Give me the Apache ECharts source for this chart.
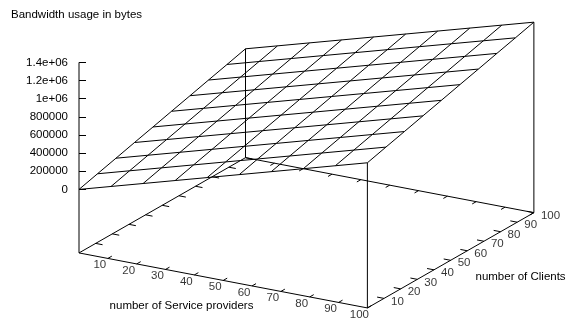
<!DOCTYPE html>
<html>
<head>
<meta charset="utf-8">
<script src="https://cdn.jsdelivr.net/npm/echarts@6/dist/echarts.min.js"></script>
<style>
  html, body { margin: 0; padding: 0; background: #fff; }
  #chart { width: 572px; height: 320px; }
</style>
</head>
<body>
<div id="chart"></div>
<script>
// ---- data -------------------------------------------------------------
const xRange = [0, 100];          // number of Service providers
const yRange = [0, 100];          // number of Clients
const zRange = [0, 1400000];      // bandwidth usage in bytes

// sample positions of the 10 x 10 surface mesh
const spSamples     = [0, 11.11, 22.22, 33.33, 44.44, 55.56, 66.67, 77.78, 88.89, 100];
const clientSamples = [0, 11.11, 22.22, 33.33, 44.44, 55.56, 66.67, 77.78, 88.89, 100];

// bandwidth[i][j]: usage for spSamples[i] service providers and clientSamples[j] clients
const bandwidth = [
  [     0,   56000,  111000,  167000,  222000,  278000,  333000,  389000,  444000,  500000],
  [100000,  156000,  211000,  267000,  322000,  378000,  433000,  489000,  544000,  600000],
  [200000,  256000,  311000,  367000,  422000,  478000,  533000,  589000,  644000,  700000],
  [300000,  356000,  411000,  467000,  522000,  578000,  633000,  689000,  744000,  800000],
  [400000,  456000,  511000,  567000,  622000,  678000,  733000,  789000,  844000,  900000],
  [500000,  556000,  611000,  667000,  722000,  778000,  833000,  889000,  944000, 1000000],
  [600000,  656000,  711000,  767000,  822000,  878000,  933000,  989000, 1044000, 1100000],
  [700000,  756000,  811000,  867000,  922000,  978000, 1033000, 1089000, 1144000, 1200000],
  [800000,  856000,  911000,  967000, 1022000, 1078000, 1133000, 1189000, 1244000, 1300000],
  [900000,  956000, 1011000, 1067000, 1122000, 1178000, 1233000, 1289000, 1344000, 1400000]
];

const xTicks = [10, 20, 30, 40, 50, 60, 70, 80, 90, 100];
const yTicks = [10, 20, 30, 40, 50, 60, 70, 80, 90, 100];
const zTicks = [0, 200000, 400000, 600000, 800000, 1000000, 1200000, 1400000];
const zTickLabels = ['0', '200000', '400000', '600000', '800000', '1e+06', '1.2e+06', '1.4e+06'];

// ---- view (gnuplot-style 60/30 rotation) -------------------------------
const ROT_X = 60 * Math.PI / 180;
const ROT_Z = 30 * Math.PI / 180;
const TICS_LEVEL = 0.5;
const H_PX = 166.5;   // px per normalised horizontal unit
const T_PX = 110;     // px per normalised depth unit
const Z_PX = 127;     // px spanned by the full z range
const TIC_FRAC = 0.024;

const zSpan = zRange[1] - zRange[0];
const baseZ = zRange[0] - TICS_LEVEL * zSpan;
const tiltBytes = T_PX / Z_PX * zSpan;

function norm(v, r) { return 2 * (v - r[0]) / (r[1] - r[0]) - 1; }
function horiz(nx, ny) { return nx * Math.cos(ROT_Z) + ny * Math.sin(ROT_Z); }
function depth(nx, ny) { return (-nx * Math.sin(ROT_Z) + ny * Math.cos(ROT_Z)) * Math.cos(ROT_X); }
const h0 = horiz(-1, -1);
const d0 = depth(-1, -1);

// (x, y, z) -> [horizontal view unit, z-equivalent height in bytes]
function project(x, y, z) {
  const nx = norm(x, xRange), ny = norm(y, yRange);
  return [horiz(nx, ny), z + (depth(nx, ny) - d0) * tiltBytes];
}

// ---- geometry built from the data ------------------------------------
const mesh = [];
spSamples.forEach((sx, i) => {
  mesh.push({ coords: clientSamples.map((cy, j) => project(sx, cy, bandwidth[i][j])) });
});
clientSamples.forEach((cy, j) => {
  mesh.push({ coords: spSamples.map((sx, i) => project(sx, cy, bandwidth[i][j])) });
});

const [x0, x1] = xRange, [y0, y1] = yRange;
const last = spSamples.length - 1;
const frame = [
  { coords: [project(x0, y0, baseZ), project(x1, y0, baseZ)] },
  { coords: [project(x1, y0, baseZ), project(x1, y1, baseZ)] },
  { coords: [project(x1, y1, baseZ), project(x0, y1, baseZ)] },
  { coords: [project(x0, y1, baseZ), project(x0, y0, baseZ)] },
  // z axis
  { coords: [project(x0, y0, baseZ), project(x0, y0, zRange[1])] },
  // corner drops from the surface to the base
  { coords: [project(x1, y0, baseZ), project(x1, y0, bandwidth[last][0])] },
  { coords: [project(x1, y1, baseZ), project(x1, y1, bandwidth[last][last])] },
  { coords: [project(x0, y1, baseZ), project(x0, y1, bandwidth[0][last])] }
];

const lx = TIC_FRAC * (x1 - x0), ly = TIC_FRAC * (y1 - y0);
const ticks = [];
xTicks.forEach(t => {
  ticks.push({ coords: [project(t, y0, baseZ), project(t, y0 + ly, baseZ)] });
  ticks.push({ coords: [project(t, y1, baseZ), project(t, y1 - ly, baseZ)] });
});
yTicks.forEach(t => {
  ticks.push({ coords: [project(x1, t, baseZ), project(x1 - lx, t, baseZ)] });
  ticks.push({ coords: [project(x0, t, baseZ), project(x0 + lx, t, baseZ)] });
});

const FONT = 'Liberation Sans, Arial, Helvetica, sans-serif';
const FONT_SIZE = 11.5;
const lineStyle = { color: '#000', width: 1, opacity: 1 };

const chart = echarts.init(document.getElementById('chart'), null, { renderer: 'canvas' });
chart.setOption({
  backgroundColor: '#fff',
  animation: false,
  textStyle: { fontFamily: FONT, color: '#000' },
  grid: { left: 79, top: 8, width: 490, height: 308.43, containLabel: false, outerBoundsMode: 'none' },
  xAxis: { type: 'value', min: h0, max: h0 + 490 / H_PX, show: false },
  yAxis: {
    type: 'value', min: -1400000, max: 2000000, position: 'left',
    axisLine: { show: false, onZero: false },
    splitLine: { show: false },
    axisTick: { show: true, inside: true, length: 7, customValues: zTicks, lineStyle: { color: '#000', width: 1 } },
    axisLabel: {
      show: true, customValues: zTicks, margin: 11,
      color: '#000', fontSize: FONT_SIZE, fontFamily: FONT,
      formatter: v => zTickLabels[zTicks.indexOf(v)]
    }
  },
  graphic: [
    { type: 'text', left: 11, top: 9, style: { text: 'Bandwidth usage in bytes', font: FONT_SIZE + 'px ' + FONT, fill: '#000' } },
    { type: 'text', x: 181.5, y: 306, style: { text: 'number of Service providers', font: FONT_SIZE + 'px ' + FONT, fill: '#000', textAlign: 'center', textVerticalAlign: 'middle' } },
    { type: 'text', x: 475.5, y: 276.5, style: { text: 'number of Clients', font: FONT_SIZE + 'px ' + FONT, fill: '#000', textAlign: 'left', textVerticalAlign: 'middle' } }
  ],
  series: [
    { type: 'lines', name: 'surface', coordinateSystem: 'cartesian2d', polyline: true, clip: false, silent: true, lineStyle, data: mesh },
    { type: 'lines', name: 'frame', coordinateSystem: 'cartesian2d', polyline: true, clip: false, silent: true, lineStyle, data: frame },
    { type: 'lines', name: 'tics', coordinateSystem: 'cartesian2d', polyline: true, clip: false, silent: true, lineStyle, data: ticks },
    {
      type: 'scatter', name: 'xTickLabels', symbolSize: 0, clip: false, silent: true,
      itemStyle: { color: 'rgba(0,0,0,0)' },
      label: { show: true, position: 'inside', offset: [-8, 6.5], formatter: '{b}', color: '#000', fontSize: FONT_SIZE, fontFamily: FONT },
      data: xTicks.map(t => ({ name: String(t), value: project(t, y0, baseZ) }))
    },
    {
      type: 'scatter', name: 'yTickLabels', symbolSize: 0, clip: false, silent: true,
      itemStyle: { color: 'rgba(0,0,0,0)' },
      label: { show: true, position: 'right', distance: 7, offset: [0, 3], formatter: '{b}', color: '#000', fontSize: FONT_SIZE, fontFamily: FONT },
      data: yTicks.map(t => ({ name: String(t), value: project(x1, t, baseZ) }))
    }
  ]
});
</script>
</body>
</html>
